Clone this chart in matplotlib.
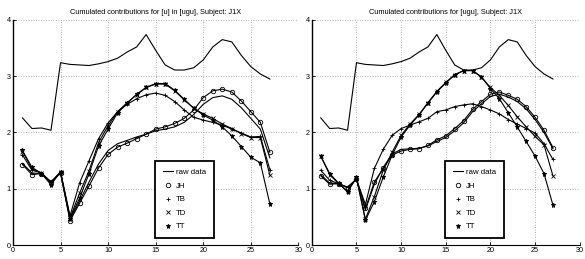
import matplotlib.pyplot as plt

plt.rcParams['font.family'] = ['Liberation Sans', 'DejaVu Sans']

frames = list(range(1, 28))

raw_data = [2.26, 2.07, 2.08, 2.04, 3.24, 3.21, 3.20, 3.19, 3.22, 3.26, 3.32, 3.43, 3.52, 3.74,
            3.46, 3.20, 3.11, 3.11, 3.15, 3.29, 3.52, 3.65, 3.61, 3.37, 3.17, 3.04, 2.95]

# left panel: [u] in [ugu]
u_JH = [1.43, 1.25, 1.27, 1.12, 1.28, 0.43, 0.74, 1.05, 1.37, 1.61, 1.74, 1.81, 1.89, 1.97,
        2.06, 2.10, 2.16, 2.25, 2.40, 2.62, 2.74, 2.77, 2.72, 2.56, 2.37, 2.18, 1.65]
u_TB = [1.60, 1.33, 1.28, 1.12, 1.30, 0.52, 1.10, 1.50, 1.89, 2.17, 2.37, 2.50, 2.60, 2.67,
        2.70, 2.66, 2.55, 2.40, 2.27, 2.22, 2.18, 2.13, 2.06, 1.99, 1.92, 1.93, 1.34]
u_TD = [1.66, 1.36, 1.28, 1.10, 1.30, 0.48, 0.92, 1.32, 1.82, 2.12, 2.37, 2.53, 2.67, 2.80,
        2.86, 2.86, 2.74, 2.58, 2.43, 2.33, 2.25, 2.15, 2.07, 1.98, 1.91, 1.91, 1.24]
u_TT = [1.68, 1.38, 1.27, 1.07, 1.30, 0.47, 0.83, 1.27, 1.76, 2.06, 2.35, 2.52, 2.68, 2.80,
        2.87, 2.87, 2.75, 2.59, 2.43, 2.31, 2.22, 2.10, 1.94, 1.75, 1.56, 1.46, 0.73]
u_sum = [1.45, 1.28, 1.27, 1.12, 1.28, 0.45, 0.78, 1.12, 1.44, 1.68, 1.80, 1.86, 1.92, 1.97,
         2.03, 2.06, 2.10, 2.18, 2.32, 2.50, 2.62, 2.65, 2.59, 2.44, 2.25, 2.06, 1.55]

# right panel: [ugu]
ugu_JH = [1.23, 1.08, 1.09, 1.02, 1.17, 0.65, 1.12, 1.36, 1.60, 1.67, 1.70, 1.71, 1.77, 1.87,
          1.94, 2.07, 2.21, 2.41, 2.55, 2.68, 2.72, 2.66, 2.59, 2.46, 2.27, 2.04, 1.73]
ugu_TB = [1.33, 1.15, 1.09, 1.03, 1.17, 0.72, 1.36, 1.70, 1.95, 2.07, 2.13, 2.19, 2.25, 2.37,
          2.40, 2.46, 2.49, 2.51, 2.46, 2.40, 2.33, 2.23, 2.15, 2.07, 1.99, 1.80, 1.52]
ugu_TD = [1.58, 1.25, 1.09, 0.96, 1.19, 0.46, 0.86, 1.33, 1.65, 1.95, 2.15, 2.32, 2.53, 2.73,
          2.89, 3.03, 3.10, 3.10, 2.98, 2.80, 2.66, 2.48, 2.28, 2.10, 1.93, 1.78, 1.23]
ugu_TT = [1.58, 1.27, 1.10, 0.94, 1.20, 0.44, 0.77, 1.21, 1.60, 1.92, 2.13, 2.31, 2.52, 2.72,
          2.88, 3.02, 3.10, 3.10, 2.99, 2.78, 2.60, 2.35, 2.10, 1.84, 1.58, 1.27, 0.71]
ugu_sum = [1.25, 1.10, 1.09, 1.02, 1.17, 0.62, 1.08, 1.38, 1.62, 1.70, 1.71, 1.72, 1.76, 1.84,
           1.91, 2.03, 2.17, 2.37, 2.51, 2.64, 2.68, 2.63, 2.55, 2.42, 2.23, 2.00, 1.71]

titles = ["Cumulated contributions for [u] in [ugu], Subject: J1X",
          "Cumulated contributions for [ugu], Subject: J1X"]
labels = ["raw data", "JH", "TB", "TD", "TT"]

fig = plt.figure(figsize=(5.85, 2.59), dpi=100)
ax1 = fig.add_axes([0.0221, 0.054, 0.488, 0.869])
ax2 = fig.add_axes([0.533, 0.054, 0.458, 0.869])

panels = [(ax1, u_JH, u_TB, u_TD, u_TT, u_sum, titles[0]),
          (ax2, ugu_JH, ugu_TB, ugu_TD, ugu_TT, ugu_sum, titles[1])]

for ax, jh, tb, td, tt, tot, title in panels:
    lw = 0.8
    ax.plot(frames, raw_data, color="black", linewidth=lw)
    ax.plot(frames, tot, color="black", linewidth=lw)
    ax.plot(frames, jh, color="black", linewidth=lw, marker="o", markersize=3.2,
            markerfacecolor="none", markeredgewidth=0.6)
    ax.plot(frames, tb, color="black", linewidth=lw, marker="+", markersize=3.2, markeredgewidth=0.6)
    ax.plot(frames, td, color="black", linewidth=lw, marker="x", markersize=3.0, markeredgewidth=0.6)
    ax.plot(frames, tt, color="black", linewidth=lw, marker="*", markersize=3.6, markeredgewidth=0.6)

    # legend-only handles (markers without lines, like the original)
    h_raw, = ax.plot([], [], color="black", linewidth=lw)
    h_jh, = ax.plot([], [], "o", color="black", markersize=3.2, markerfacecolor="none", markeredgewidth=0.6)
    h_tb, = ax.plot([], [], "+", color="black", markersize=3.2, markeredgewidth=0.6)
    h_td, = ax.plot([], [], "x", color="black", markersize=3.0, markeredgewidth=0.6)
    h_tt, = ax.plot([], [], "*", color="black", markersize=3.6, markeredgewidth=0.6)
    leg = ax.legend([h_raw, h_jh, h_tb, h_td, h_tt], labels, loc="lower left",
                    bbox_to_anchor=(0.498, 0.031), fontsize=5.6, frameon=True, fancybox=False,
                    borderpad=1.0, labelspacing=0.78, handlelength=1.3, handletextpad=0.4,
                    borderaxespad=0)
    leg.get_frame().set_edgecolor("black")
    leg.get_frame().set_linewidth(1.3)
    leg.get_frame().set_alpha(1)

    ax.set_xlim(0, 30)
    ax.set_ylim(0, 4)
    ax.set_xticks(range(0, 31, 5))
    ax.set_yticks(range(0, 5))
    ax.grid(True, color="#999999", linestyle=(0, (1, 2)), linewidth=0.6)
    ax.spines["top"].set_visible(False)
    ax.spines["right"].set_visible(False)
    ax.spines["left"].set_linewidth(1.0)
    ax.spines["bottom"].set_linewidth(0.8)
    ax.tick_params(direction="in", length=2, width=0.6, labelsize=5.2, pad=1.5)
    ax.set_title(title, fontsize=5.3, pad=4)

fig.savefig("out.png", dpi=100)
